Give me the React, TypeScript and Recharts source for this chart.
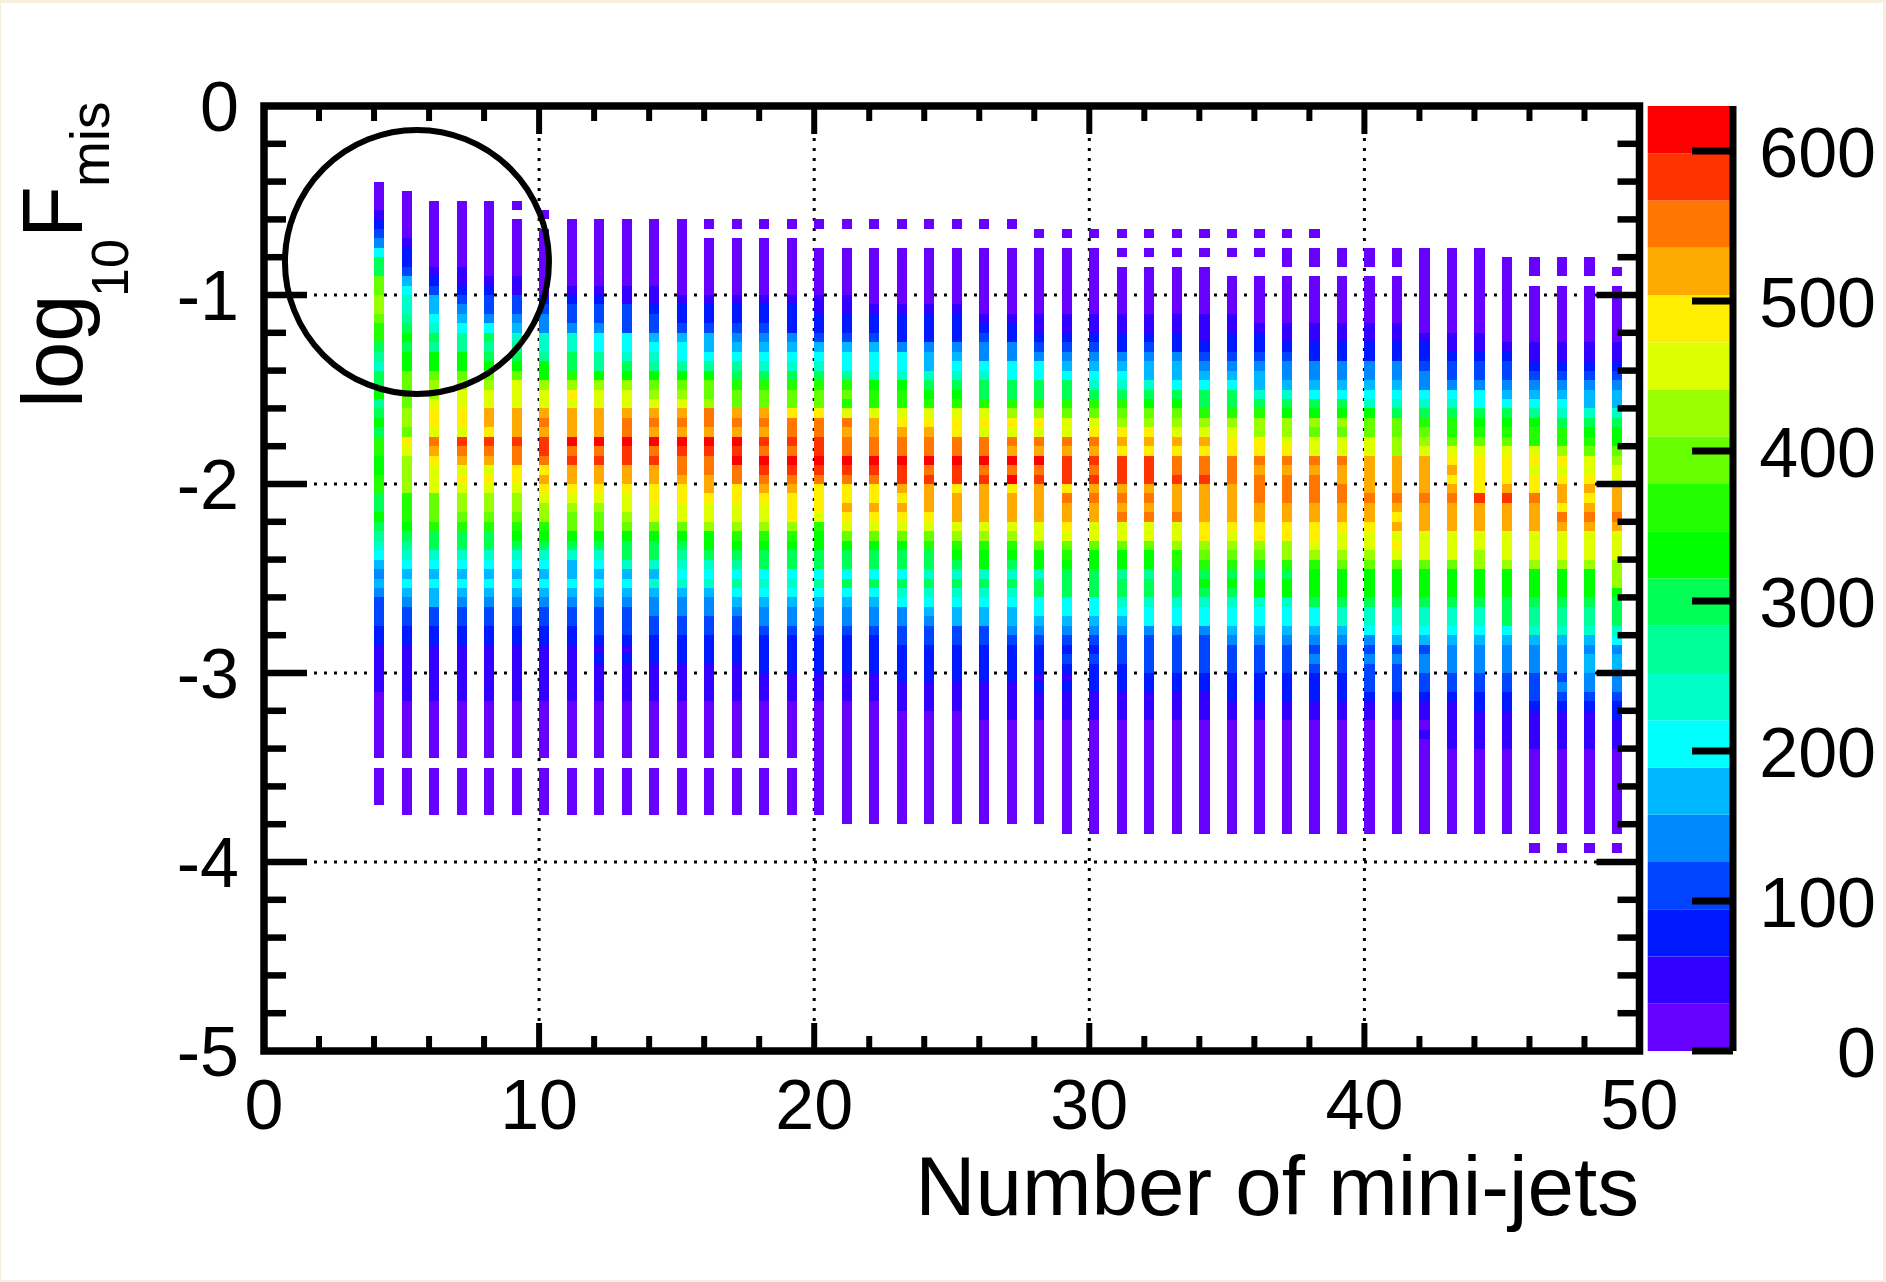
import React from 'react';
import { ScatterChart, Scatter, XAxis, YAxis, ReferenceLine, ReferenceArea, ReferenceDot, BarChart, Bar } from 'recharts';

const W = 1886, H = 1282;
const LEFT = 264, RIGHT = 1639.5, TOP = 106, BOTTOM = 1051;
const FONT = '"Liberation Sans", Arial, Helvetica, sans-serif';

const paletteKeys = 'abcdefghijklmnopqrst'.split('');
const paletteColors = ['#6600ff','#3300ff','#0019ff','#0044ff','#0088ff','#00b8ff','#00ffff','#00ffc8','#00ff99','#00ff55','#00ff00','#22ff00','#66ff00','#99ff00','#ddff00','#ffee00','#ffaa00','#ff7700','#ff3300','#ff0000'];
const bandStep = 31.5;
const zTicks = [0,100,200,300,400,500,600];
const xTicks = [0,2,4,6,8,10,12,14,16,18,20,22,24,26,28,30,32,34,36,38,40,42,44,46,48,50];
const yTicks = [-5,-4.8,-4.6,-4.4,-4.2,-4,-3.8,-3.6,-3.4,-3.2,-3,-2.8,-2.6,-2.4,-2.2,-2,-1.8,-1.6,-1.4,-1.2,-1,-0.8,-0.6,-0.4,-0.2,0];
const xGrid = [10,20,30,40];
const yGrid = [-1,-2,-3,-4];

// Number of mini-jets of the first column; each later string is the next column.
const firstJets = 4;
const barWidthInX = 0.37;
const binHeightInY = 0.05;
// Each token: palette letter + y-bin range counted from the top of the plot (bin i spans -0.05*i to -0.05*(i+1)).
const columnBins = [
"a8-10 b11 c12 d13 e14 g15 j16-17 m18-19 n20-21 m22 l23-24 j25 i26 h27 j28-29 k30 i31 j32 k33 j34 l35-36 k37-38 l39-40 j41-42 k43 j44 i45 h46 g47 f48 e49 f50 e51 d52-54 c55-56 b57-61 a62-68 a70-73",
"a9-13 b14 c15-16 d17 f18 g19 h20-21 i22 j23 k24 j25 k26-27 m28-31 n32-33 m34 p35 o36 n37-40 l41-43 k44 j45 i46 h47 g48 f49 g50 f51 e52 d53-54 c55-56 b57-62 a63-68 a70-74",
"a10-16 b17 c18 d19 f20-21 g22 h23 j24 i25 k26-27 m28 n29-30 o31 p32-33 o34 r35 q36 p37 o38-40 m41-43 l44 j45-46 h47 g48 f49 g50 f51-52 d53-54 c55-56 b57-62 a63-68 a70-74",
"a10-16 b17-18 c19 d20 e21 f22 g23 i24-25 k26-27 m28 n29 o30-31 p32-33 o34 s35 r36 q37 o38 p39 o40 n41-42 m43 l44 j45-46 h47 g48 f49 g50 f51 e52 d53-54 c55-56 b57-62 a63-68 a70-74",
"a10-17 b18 c19 d20-21 e22 g23 j24 i25 j26 k27 m28 n29 o30-31 q32-33 p34 s35 r36 q37 o38 p39 o40 n41-42 m43 l44 j45-46 h47 g48 f49 g50 f51 e52 d53-54 c55-56 b57-62 a63-68 a70-74",
"a10 a12-17 b18-19 d20-21 e22 f23 h24 i25 j26 k27 m28 o29-31 q32-34 s35 r36-37 p38-39 o40 n41-42 m43 l44 k45 j46 h47 g48 f49 g50 f51 e52 d53-54 c55-56 b57-62 a63-68 a70-74",
"a11 a13-19 c20 d21 e22-23 h24-25 i26 k27-28 n29 o30-31 q32 r33 q34 s35-36 r37 p38 q39 p40 o41 n42-43 l44 k45 j46 h47 g48 f49 g50 f51 e52 d53-54 c55-56 b57-62 a63-68 a70-74",
"a12-18 b19 c20 d21-22 e23 h24-25 j26-27 l28 n29 p30 o31 q32-34 t35 r36 s37 q38-39 p40 o41 n42 m43-44 k45 j46 h47 f48-49 g50 f51 e52 d53-54 c55-56 b57-62 a63-68 a70-74",
"a12-18 b19 c20 d21-22 e23 g24-25 i26-27 k28 n29 o30-31 q32-34 t35 r36 s37 q38-39 p40 o41 n42 m43-44 k45 j46 h47 g48 f49 g50 f51 e52 d53-55 c56 b57 c58 b59-62 a63-68 a70-74",
"a12-18 b19-20 d21-23 g24-25 h26 j27 k28 n29 o30-31 q32 r33-34 t35 s36-37 q38-39 p40 o41-42 n43 m44 k45 j46-47 h48 f49 g50 f51 e52 d53-55 c56 b57 c58 b59-62 a63-68 a70-74",
"a12-18 b19-20 c21 d22-23 f24 g25 h26 i27 k28 m29 n30 o31 q32 r33 q34 t35 r36 s37 q38-39 p40-41 o42-43 m44 k45 j46-47 h48 f49 h50 f51 e52-53 d54-55 c56-58 b59-62 a63-68 a70-74",
"a12-19 b20 c21-22 d23 f24 g25-26 i27 k28 m29 n30 o31 q32 r33 q34 t35 s36 r37-38 q39 p40-41 o42-43 m44 k45 j46 i47 h48 g49 h50 f51 e52-53 d54-55 c56-58 b59-62 a63-68 a70-74",
"a12 a14-19 b20 c21-22 d23 f24-25 g26 i27 k28 m29-30 n31 r32-33 q34 t35 s36 r37-38 q39-40 p41 o42-43 n44 k45-46 j47 h48 g49 h50 f51 e52-53 d54-55 c56-58 b59-62 a63-68 a70-74",
"a12 a14-19 b20 c21-22 d23 e24 f25 g26 i27 j28 l29 m30-31 q32 r33 q34 t35 s36 t37 r38-39 p40-41 o42-43 n44 l45 k46 j47 i48 g49 i50 g51 f52 e53 d54-55 c56-58 b59-62 a63-68 a70-74",
"a12 a14-19 b20 c21-22 d23 e24 f25 g26 h27 j28 l29 m30-31 q32 r33 q34 s35 r36 t37 s38 r39 q40 p41 o42-43 n44 l45 k46 j47-48 g49 h50 g51 f52 e53-54 d55 c56-59 b60-62 a63-68 a70-74",
"a12 a14-19 b20 c21-23 e24 f25 g26 h27 j28 l29 m30-31 p32 r33-34 s35 r36 t37 s38 r39 q40 p41-43 n44 l45 k46 j47-48 g49 h50 g51 f52 e53-54 d55 c56-59 b60-62 a63-68 a70-74",
"a12 a15-19 b20-21 c22-23 d24 f25 g26 h27 j28 l29 m30-31 p32 r33-34 s35-36 t37 s38 r39 p40-42 o43 l44 k45-46 j47-48 g49 i50 g51 f52 e53-54 d55 c56-59 b60-62 a63-74",
"a12 a15-19 b20-21 c22-23 d24 f25 g26-27 i28 l29 m30 l31 o32 r33 q34 r35-36 t37 s38 r39 p40-41 q42 p43 o44 m45 k46 j47-48 g49 j50 g51 f52 e53-54 d55 c56-59 b60-62 a63-75",
"a12 a15-20 b21 c22-23 d24 f25 g26-27 h28 k29 l30-31 o32 q33-34 r35-36 t37 s38 r39 p40-41 q42 p43 o44 m45 k46 j47-48 g49 j50 g51 f52 e53-54 d55 c56-59 b60-62 a63-75",
"a12 a15-20 b21 c22-24 e25 g26-27 h28 k29 l30-31 o32 p33 q34 r35-36 t37 s38-39 q40 p41 q42 p43 o44 m45 k46 j47-48 g49 j50 h51 g52 e53-54 d55-56 c57-60 b61-63 a64-75",
"a12 a15-20 b21 c22-24 e25 f26-27 h28 j29 k30 l31 o32 p33 q34 r35-36 t37 r38 s39 q40-42 p43 o44 m45 l46 j47-48 h49 j50 h51 g52 f53 e54 d55-56 c57-60 b61-63 a64-75",
"a12 a15-20 b21 c22-24 e25 f26 g27 h28 j29 k30 l31 o32 p33-34 r35-36 t37 s38-39 p40 q41-43 o44 n45 l46 k47 j48 h49 j50 h51 g52 f53-54 d55-56 c57-60 b61-63 a64-75",
"a12 a15-21 b22 c23 d24 e25-26 g27 h28 j29-30 l31 o32 p33 o34 r35-36 t37 r38 s39 q40-43 o44 n45 l46 k47-48 h49 j50 h51 g52 f53-54 d55-56 c57-60 b61-64 a65-75",
"a12 a15-21 b22 c23-24 e25-26 g27-28 j29-30 l31 n32 p33 o34 r35 q36 t37 r38 t39 p40 q41-43 o44 n45 l46 k47 j48 h49 j50 h51 g52 f53-54 e55 d56 c57-60 b61-64 a65-75",
"a13 a15-21 b22-23 c24 d25 e26 g27-28 j29-30 l31 n32 p33 o34 r35 q36 t37 r38 s39 q40-43 o44-45 m46 k47-48 h49 j50-51 g52-53 f54 e55 d56 c57-59 b60 c61 b62-64 a65-75",
"a13 a15-21 b22-23 c24 d25 e26 f27 g28 j29-30 l31 m32 o33-34 r35 q36 s37-39 p40 r41 q42-43 p44 o45 m46 l47 k48 j49-51 g52-53 f54 e55 d56 c57 d58 c59 b60 c61 b62-64 a65-76",
"a13 a15-21 b22-23 c24 d25 e26 f27 g28 h29 j30 l31 m32 o33 p34 r35 q36 s37 r38 s39 q40 r41 q42-43 o44-45 m46 k47-48 j49-51 g52-53 f54 e55 d56 c57 d58 c59-61 b62-64 a65-76",
"a13 a15 a17-21 b22-23 c24-25 e26 f27 g28 h29 j30 l31 m32 n33 p34 q35 p36 s37-39 q40 r41 q42 r43 o44-45 m46 k47-48 i49 j50-51 h52 g53 f54 e55 d56-58 c59-61 b62-64 a65-76",
"a13 a15 a17-21 b22-23 c24 d25 e26 f27-28 h29 j30 k31 m32 n33 p34 q35 p36 s37-39 q40 r41 q42 r43 o44-45 m46 k47-48 i49 j50-51 h52 g53-54 e55 d56-59 c60-61 b62-64 a65-76",
"a13 a15 a17-21 b22-23 c24-25 e26 f27-28 g29 j30 k31 m32 n33 o34 q35 p36 r37-38 s39 q40-42 r43 o44-45 n46 l47-48 j49-51 h52 g53-54 e55 d56-59 c60-61 b62-64 a65-76",
"a13 a15 a17-21 b22-24 c25 d26 e27 f28 g29 j30-31 l32 n33 o34 q35 p36 r37-38 s39 q40-43 p44-45 n46 m47 l48 j49 k50 j51 h52 g53-54 e55 d56-59 c60-61 b62-64 a65-76",
"a13 a15 a18-21 b22-23 c24-25 d26 e27 f28 g29 j30-31 l32 n33 o34 p35-36 r37-39 q40-43 p44 o45 n46 m47 l48 j49 k50 j51 h52 g53-54 f55 e56 d57-59 c60-62 b63-64 a65-76",
"a13 a15 a18-22 b23 c24-25 d26 e27 f28-29 h30 j31 l32 n33-34 p35-36 r37 q38 r39-41 q42-43 p44-45 n46 m47 l48 j49 k50-51 h52 g53-54 f55 e56 d57-59 c60-62 b63-64 a65-76",
"a13 a15-16 a18-22 b23-24 c25 d26 e27-28 f29 h30 j31 k32 n33-34 o35 p36 r37 q38 r39-41 q42-43 p44-45 n46-47 l48 j49 k50-51 h52 g53-54 f55 e56 d57-59 c60-62 b63-64 a65-76",
"a13 a15-16 a18-22 b23-24 c25-26 e27-28 f29 g30 j31 k32 n33 m34 o35-36 r37 q38 r39-41 q42-43 p44-45 o46 n47 l48 k49-51 j52 g53-54 f55 e56 d57 e58 d59 c60-62 b63-64 a65-76",
"a15-16 a18-22 b23-24 c25-26 e27-28 f29 g30 j31 k32 n33 m34 o35-36 r37 q38-39 r40-41 q42-43 p44 o45-46 n47 m48 k49-51 j52 h53-54 f55 e56 d57-59 c60-62 b63-64 a65-76",
"a15-16 a18-22 b23-24 c25-26 e27-28 f29 g30 h31 k32 m33-34 o35-36 q37-40 r41 q42-43 p44 o45-46 n47 m48 k49-51 j52 h53-54 g55 e56 d57 e58 d59-61 c62 b63-64 a65-76",
"a15-16 a18-22 b23-24 c25-26 e27-28 f29 g30 h31 j32 m33-34 n35-36 q37-40 r41 q42 p43 q44 o45 p46 o47 m48 k49-51 j52 h53-54 g55 f56 d57 e58 d59-61 c62 b63-64 a65-76",
"a15-23 b24 c25-26 d27 e28-29 g30 h31 j32 l33 m34 n35 o36 q37-40 r41 q42-44 o45-47 m48 k49-51 j52 h53-54 g55 f56 d57 e58-59 d60-61 c62 b63-64 a65 b66 a67-76",
"a15-23 b24-25 c26 d27-28 e29 g30 h31 j32 l33-34 m35 o36 p37 q38 p39 q40 r41 q42-44 o45-47 m48 k49-51 j52 h53-54 g55 f56 e57-59 d60-61 c62 b63-67 a68-76",
"a15-23 b24-25 c26 d27-28 e29 g30-31 j32 k33 l34 m35 o36 p37-40 s41 q42-44 o45-46 n47-48 k49-51 j52 h53-54 g55 f56 e57-59 d60-61 c62-63 b64-67 a68-76",
"a16-24 b25 c26 d27-28 e29 f30 g31 j32 k33 l34 m35 o36 p37-39 q40 s41 q42-44 o45-47 n48 k49-51 j52-54 g55 f56 e57-59 d60-61 c62-63 b64-67 a68-76",
"a16-17 a19-24 b25-26 c27 d28 e29 f30 g31 i32 k33 l34-35 o36 p37 o38 p39-40 r41 q42-44 o45-47 n48 k49-51 j52 i53-54 h55 f56 e57-59 d60-62 c63 b64-67 a68-76 a78",
"a16-17 a19-24 b25-26 c27 d28 e29 f30 g31 h32 j33 l34-35 n36 p37 o38 p39 q40-41 p42 r43 q44 o45-47 n48 k49-51 j52 i53-54 h55 f56 e57-59 d60 e61 d62 c63 b64-67 a68-76 a78",
"a16-17 a19-24 b25-26 c27 d28 e29 f30-31 h32 j33 k34 l35 m36 o37-38 p39 q40 p41 q42 r43 q44 o45-47 n48 k49-51 j52 i53-54 h55 f56 e57 f58-59 e60-61 d62 c63 b64-67 a68-76 a78",
"a17 a19-24 b25-26 c27 d28 e29 f30-31 h32 j33 k34-35 m36 n37 o38-39 q40-42 r43 q44 o45-47 n48-50 k51 j52-54 h55 g56 e57 f58-59 e60-61 d62 c63-64 b65-67 a68-76 a78",
];

// Annotation circle around the low-jet columns.
const circleCenterX = 5.56;
const circleCenterY = -0.825;

const cells: { jets: number; logF: number; count: number; level: number }[] = [];
columnBins.forEach((col, c) => {
  col.split(' ').forEach((tok) => {
    const level = paletteKeys.indexOf(tok[0]);
    const [from, to] = tok.slice(1).split('-').map(Number);
    for (let i = from; i <= (to ?? from); i++) {
      cells.push({
        jets: firstJets + c + barWidthInX / 2,
        logF: -(i + 0.5) * binHeightInY,
        count: (level + 0.5) * bandStep,
        level,
      });
    }
  });
});

const bandRow: Record<string, number | string> = { name: 'z' };
paletteKeys.forEach((k) => { bandRow[k] = bandStep; });

const pxPerX = (RIGHT - LEFT) / 50;
const pxPerY = (BOTTOM - TOP) / 5;

const HeatCell = (p: any) => {
  const w = barWidthInX * pxPerX;
  const h = binHeightInY * pxPerY;
  return <rect x={p.cx - w / 2} y={p.cy - h / 2} width={w} height={h} fill={paletteColors[p.payload.level]} shapeRendering="crispEdges" />;
};

const XTick = (p: any) => {
  const major = p.payload.value % 10 === 0;
  const len = major ? 28 : 15;
  const inner = p.payload.value !== 0 && p.payload.value !== 50;
  return (
    <g>
      {inner && <line x1={p.x} x2={p.x} y1={BOTTOM} y2={BOTTOM - len} stroke="#000" strokeWidth={6} />}
      {inner && <line x1={p.x} x2={p.x} y1={TOP} y2={TOP + len} stroke="#000" strokeWidth={6} />}
      {major && <text x={p.x} y={1129} textAnchor="middle" fontSize={70} fontFamily={FONT} fill="#000">{p.payload.value}</text>}
    </g>
  );
};

const YTick = (p: any) => {
  const major = Number.isInteger(p.payload.value);
  const len = major ? 43 : 22;
  const inner = p.payload.value !== 0 && p.payload.value !== -5;
  return (
    <g>
      {inner && <line x1={LEFT} x2={LEFT + len} y1={p.y} y2={p.y} stroke="#000" strokeWidth={6.5} />}
      {inner && <line x1={RIGHT} x2={RIGHT - len} y1={p.y} y2={p.y} stroke="#000" strokeWidth={6.5} />}
      {major && <text x={239} y={p.y + 25} textAnchor="end" fontSize={70} fontFamily={FONT} fill="#000">{p.payload.value}</text>}
    </g>
  );
};

const ZTick = (p: any) => (
  <g>
    <line x1={1733} x2={1692} y1={p.y} y2={p.y} stroke="#000" strokeWidth={7} />
    <text x={1876} y={p.y + 26} textAnchor="end" fontSize={70} fontFamily={FONT} fill="#000">{p.payload.value}</text>
  </g>
);

export default function App() {
  return (
    <div style={{ position: 'absolute', left: 0, top: 0, width: W, height: H, background: '#f6efdd', overflow: 'hidden' }}>
      <div style={{ position: 'absolute', left: 1, top: 3, width: W - 4, height: H - 5, background: '#ffffff' }} />
      <div style={{ position: 'absolute', left: 0, top: 0 }}>
        <ScatterChart width={W} height={H} margin={{ left: LEFT - 1, right: W - RIGHT, top: TOP, bottom: H - BOTTOM - 1 }}>
          <XAxis type="number" dataKey="jets" domain={[0, 50]} ticks={xTicks} interval={0} height={1} axisLine={false} tickLine={false} tick={XTick} />
          <YAxis type="number" dataKey="logF" domain={[-5, 0]} ticks={yTicks} interval={0} width={1} axisLine={false} tickLine={false} tick={YTick} />
          <Scatter data={cells} isAnimationActive={false} shape={HeatCell} />
          {xGrid.map((v) => <ReferenceLine key={`x${v}`} x={v} stroke="#000" strokeWidth={3} strokeDasharray="3 7" />)}
          {yGrid.map((v) => <ReferenceLine key={`y${v}`} y={v} stroke="#000" strokeWidth={3} strokeDasharray="3 7" />)}
          <ReferenceDot x={circleCenterX} y={circleCenterY} r={132} fill="none" stroke="#000" strokeWidth={6} />
          <ReferenceArea x1={0} x2={50} y1={-5} y2={0} fill="none" fillOpacity={0} stroke="#000" strokeWidth={7.5} />
        </ScatterChart>
      </div>
      <div style={{ position: 'absolute', left: 0, top: 0 }}>
        <BarChart width={W} height={H} data={[bandRow]} barCategoryGap={0} barGap={0} margin={{ left: 1647.7, right: W - 1733 - 1, top: TOP, bottom: H - BOTTOM }}>
          <XAxis dataKey="name" hide />
          <YAxis orientation="right" type="number" domain={[0, 630]} ticks={zTicks} interval={0} width={1} axisLine={{ stroke: '#000', strokeWidth: 7 }} tickLine={false} tick={ZTick} />
          {paletteKeys.map((k, i) => <Bar key={k} dataKey={k} stackId="palette" fill={paletteColors[i]} isAnimationActive={false} />)}
        </BarChart>
      </div>
      <svg width={W} height={H} style={{ position: 'absolute', left: 0, top: 0, pointerEvents: 'none' }} fontFamily={FONT} fill="#000">
        <text x={1639} y={1215} textAnchor="end" fontSize={83.5}>Number of mini-jets</text>
        <text transform="translate(82,408) rotate(-90)" fontSize={85}>log</text>
        <text transform="translate(128,297) rotate(-90)" fontSize={52}>10</text>
        <text transform="translate(82,238) rotate(-90)" fontSize={85}>F</text>
        <text transform="translate(109,187) rotate(-90)" fontSize={55}>mis</text>
      </svg>
    </div>
  );
}
